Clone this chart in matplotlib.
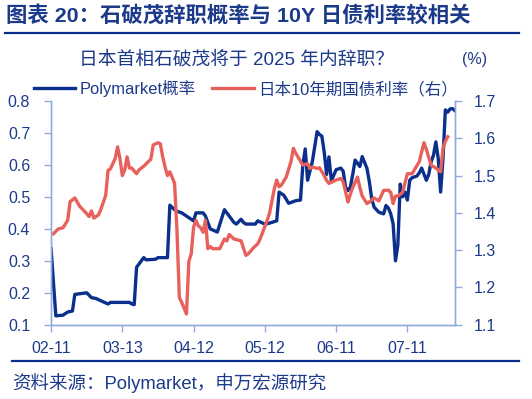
import numpy as np
import pandas as pd
from matplotlib import pyplot as plt
import matplotlib.dates as mdates

plt.rcParams['font.family'] = ['Liberation Sans', 'Noto Sans CJK SC', 'DejaVu Sans']

navy = '#0a2f8c'
txt = '#1c3a8a'
red = '#e8605c'
axis_c = '#8faadc'

start = pd.Timestamp('2025-02-11')

# Polymarket 概率（天数偏移, 数值）
pm_day = [0, 2, 5, 7, 9, 10, 15, 17, 19, 21, 24, 25, 33, 34, 35, 36, 37, 39, 40, 44, 45, 49,
          50, 52, 53, 55, 57, 60, 61, 64, 65, 67, 70, 73, 75, 77, 78, 80, 81, 82, 86, 87, 90,
          92, 95, 96, 98, 100, 103, 105, 106, 107, 108, 110, 112, 113, 114, 115, 116, 117, 118,
          120, 122, 123, 124, 125, 126, 127, 128, 130, 131, 133, 134, 135, 136, 138, 140, 141,
          142, 143, 144, 145, 146, 147, 148, 149, 150, 151, 152, 154, 155, 156, 158, 159, 160,
          161, 162, 163, 164, 165, 166, 167, 168, 169, 170]
pm_val = [0.338, 0.128, 0.13, 0.14, 0.143, 0.195, 0.2, 0.185, 0.182, 0.175, 0.165, 0.17, 0.17,
          0.165, 0.163, 0.28, 0.29, 0.31, 0.303, 0.305, 0.31, 0.31,
          0.474, 0.46, 0.455, 0.45, 0.44, 0.425, 0.45, 0.45, 0.44, 0.40, 0.39, 0.46, 0.44, 0.42,
          0.415, 0.43, 0.42, 0.415, 0.415, 0.425, 0.415,
          0.418, 0.425, 0.515, 0.505, 0.48, 0.488, 0.49, 0.60, 0.65, 0.552, 0.61, 0.704, 0.695,
          0.69, 0.64, 0.57, 0.625, 0.55,
          0.585, 0.59, 0.58, 0.53, 0.52, 0.53, 0.57, 0.615, 0.595, 0.626, 0.589, 0.547, 0.494,
          0.468, 0.452, 0.447, 0.473,
          0.465, 0.447, 0.416, 0.30, 0.35, 0.54, 0.50, 0.515, 0.49, 0.552, 0.56, 0.565, 0.575,
          0.59, 0.552, 0.57, 0.61,
          0.63, 0.672, 0.62, 0.515, 0.62, 0.772, 0.765, 0.775, 0.776, 0.77]

# 日本10年期国债利率（天数偏移, %）
jgb_day = [1, 3, 5, 7, 8, 10, 12, 15, 16, 17, 18, 20, 21, 23, 24, 25, 27, 28, 29, 30, 31, 32,
           33, 34, 35, 36, 37, 39, 42, 43, 45, 46, 47, 48, 49, 50, 51, 52, 53, 54, 55, 57, 58,
           59, 60, 61, 62, 63, 64, 65, 66, 67, 68, 71, 73, 74, 75, 77, 80, 82, 83, 85, 87,
           88, 91, 92, 94, 95, 96, 97, 99, 101, 102, 103, 106, 108, 109, 110, 112, 113, 115,
           116, 117, 120, 122, 123, 125, 126, 127, 129, 130, 131, 133, 134, 136, 138, 140, 142,
           143, 144, 145, 146, 148, 150, 152, 155, 157, 158, 160, 162, 164, 165, 166, 167]
jgb_val = [1.344, 1.357, 1.36, 1.38, 1.43, 1.44, 1.418, 1.398, 1.39, 1.405, 1.386, 1.395, 1.41,
           1.447, 1.514, 1.518, 1.546, 1.577, 1.546, 1.50, 1.515, 1.55,
           1.52, 1.52, 1.512, 1.505, 1.515, 1.525, 1.544, 1.582, 1.588, 1.585, 1.55, 1.523, 1.50,
           1.51, 1.495, 1.479, 1.353, 1.173, 1.16, 1.129, 1.27,
           1.29, 1.362, 1.38, 1.365, 1.36, 1.348, 1.38, 1.304, 1.31, 1.304, 1.304, 1.33, 1.325,
           1.342, 1.33, 1.325, 1.286, 1.29, 1.305, 1.317,
           1.33, 1.38, 1.40, 1.465, 1.488, 1.47, 1.475, 1.496, 1.537, 1.573, 1.56, 1.528, 1.532,
           1.519, 1.523, 1.519, 1.521, 1.50,
           1.487, 1.479, 1.488, 1.492, 1.483, 1.429, 1.45, 1.468, 1.496, 1.468, 1.445, 1.425,
           1.429, 1.44, 1.432, 1.46, 1.461,
           1.455, 1.425, 1.445, 1.445, 1.455, 1.505, 1.505, 1.537, 1.588, 1.57, 1.528, 1.52,
           1.51, 1.573, 1.592, 1.604]

pm_x = start + pd.to_timedelta(pm_day, unit='D')
jgb_x = start + pd.to_timedelta(jgb_day, unit='D')
tick_x = start + pd.to_timedelta([0, 30, 60, 90, 120, 150], unit='D')

fig = plt.figure(figsize=(5.32, 3.99), dpi=100)
ax = fig.add_axes([0.096, 0.186, 0.759, 0.561])
ax2 = ax.twinx()

l1, = ax.plot(pm_x, pm_val, color=navy, lw=2.4, label='Polymarket概率')
l2, = ax2.plot(jgb_x, jgb_val, color=red, lw=2.4, label='日本10年期国债利率（右）')

ax.set_xlim(start, start + pd.Timedelta(days=170))
ax.set_ylim(0.1, 0.8)
ax2.set_ylim(1.1, 1.7)
ax.set_yticks(np.arange(0.1, 0.81, 0.1))
ax2.set_yticks(np.arange(1.1, 1.71, 0.1))
ax.set_xticks(tick_x)
ax.xaxis.set_major_formatter(mdates.DateFormatter('%m-%d'))

for a in (ax, ax2):
    a.spines['top'].set_visible(False)
    for s in ('left', 'right', 'bottom'):
        a.spines[s].set_color(axis_c)
        a.spines[s].set_linewidth(1.0)
    a.tick_params(colors=axis_c, labelcolor=txt, labelsize=11.5, length=5, width=1.0)
ax.yaxis.set_major_formatter(plt.FormatStrFormatter('%.1f'))
ax2.yaxis.set_major_formatter(plt.FormatStrFormatter('%.1f'))
ax.tick_params(axis='x', pad=7)
ax.tick_params(axis='y', pad=10)
ax2.tick_params(axis='y', pad=8.5)

fig.legend(handles=[l1, l2], loc='center', bbox_to_anchor=(0.462, 0.778), ncol=2,
           frameon=False, fontsize=11.9, handlelength=2.5, columnspacing=1.0,
           handletextpad=0.25, labelcolor=txt)

fig.text(0.012, 0.962, '图表 20：石破茂辞职概率与 10Y 日债利率较相关', fontsize=15.4,
         fontweight='bold', color=txt, va='center', ha='left')
fig.add_artist(plt.Line2D([0.01, 0.975], [0.917, 0.917], color=navy, lw=1.6))
fig.text(0.445, 0.85, '日本首相石破茂将于 2025 年内辞职？', fontsize=13.5, color=txt,
         va='center', ha='center')
fig.text(0.868, 0.85, '(%)', fontsize=11.5, color=txt, va='center', ha='left')
fig.add_artist(plt.Line2D([0.022, 0.975], [0.095, 0.095], color=navy, lw=1.6))
fig.text(0.022, 0.04, '资料来源：Polymarket，申万宏源研究', fontsize=13.3, color=txt,
         va='center', ha='left')

plt.savefig('out.png', dpi=100)
